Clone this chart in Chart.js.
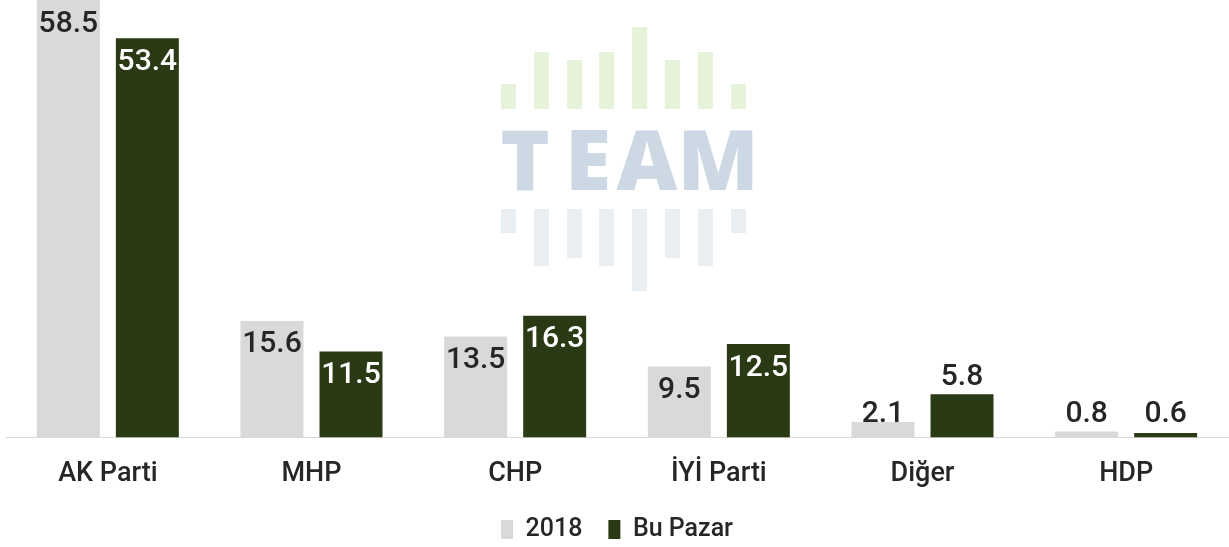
<!DOCTYPE html>
<html>
<head>
<meta charset="utf-8">
<script src="https://cdn.jsdelivr.net/npm/chart.js@4.4.1/dist/chart.umd.min.js"></script>
<style>
html,body{margin:0;padding:0;background:#fff;}
#wrap{width:1229px;height:547px;position:relative;}
</style>
</head>
<body>
<div id="wrap"><canvas id="c" width="1229" height="547"></canvas></div>
<script>
const categories = ["AK Parti", "MHP", "CHP", "İYİ Parti", "Diğer", "HDP"];
const series2018 = [58.5, 15.6, 13.5, 9.5, 2.1, 0.8];
const seriesBuPazar = [53.4, 11.5, 16.3, 12.5, 5.8, 0.6];
const seriesNames = ["2018", "Bu Pazar"];

const GREY = "#d9d9d9";
const GREEN = "#2a3a14";
const DARK = "#262626";

const watermark = {
  id: "watermark",
  beforeDraw(chart) {
    const ctx = chart.ctx;
    ctx.save();
    const xs = [501, 534, 567, 599, 632, 665, 698, 731];
    const upTop = [84, 52, 60, 52, 27, 60, 52, 84];
    const lowBot = [233, 266, 258, 266, 291, 258, 266, 233];
    ctx.fillStyle = "#e6f2da";
    xs.forEach((x, i) => ctx.fillRect(x, upTop[i], 15, 109 - upTop[i]));
    ctx.fillStyle = "#e9eef3";
    xs.forEach((x, i) => ctx.fillRect(x, 209, 15, lowBot[i] - 209));
    ctx.fillStyle = "#ccd8e4";
    ctx.font = "800 84px 'Open Sans'";
    ctx.textAlign = "center";
    ctx.textBaseline = "alphabetic";
    const letters = [["T", 525], ["E", 588], ["A", 647], ["M", 718]];
    letters.forEach(([l, x]) => ctx.fillText(l, x, 190));
    ctx.restore();
  }
};

const valueLabels = {
  id: "valueLabels",
  afterDatasetsDraw(chart) {
    const ctx = chart.ctx;
    ctx.save();
    ctx.font = "500 30px Roboto";
    ctx.textAlign = "center";
    ctx.textBaseline = "middle";
    chart.data.datasets.forEach((ds, di) => {
      const meta = chart.getDatasetMeta(di);
      meta.data.forEach((el, i) => {
        const v = ds.data[i];
        const h = el.base - el.y;
        let cy, color;
        if (h >= 60) { cy = el.y + 24; color = di === 1 ? "#ffffff" : DARK; }
        else if (h >= 20) { cy = el.y - 17; color = DARK; }
        else { cy = el.base - 23; color = DARK; }
        ctx.fillStyle = color;
        ctx.fillText(v.toFixed(1), el.x, cy);
      });
    });
    ctx.restore();
  }
};

new Chart(document.getElementById("c"), {
  type: "bar",
  data: {
    labels: categories,
    datasets: [
      { label: seriesNames[0], data: series2018, backgroundColor: GREY },
      { label: seriesNames[1], data: seriesBuPazar, backgroundColor: GREEN }
    ]
  },
  options: {
    responsive: false,
    animation: false,
    devicePixelRatio: 1,
    layout: { padding: { left: 6, right: 1, top: 0, bottom: -5 } },
    categoryPercentage: 0.776,
    barPercentage: 0.797,
    plugins: {
      legend: {
        position: "bottom",
        labels: {
          color: DARK,
          font: { family: "Roboto", size: 25, weight: "500" },
          boxWidth: 12,
          boxHeight: 19,
          padding: 26
        }
      },
      tooltip: { enabled: false }
    },
    scales: {
      x: {
        grid: { display: false, drawTicks: false },
        border: { display: true, color: "#d9d9d9", width: 1 },
        ticks: { color: DARK, font: { family: "Roboto", size: 27, weight: "500" }, padding: 20 },
        afterFit(scale) { scale.height -= 19; }
      },
      y: {
        display: false,
        min: 0,
        max: 58.5
      }
    }
  },
  plugins: [watermark, valueLabels]
});
</script>
</body>
</html>
